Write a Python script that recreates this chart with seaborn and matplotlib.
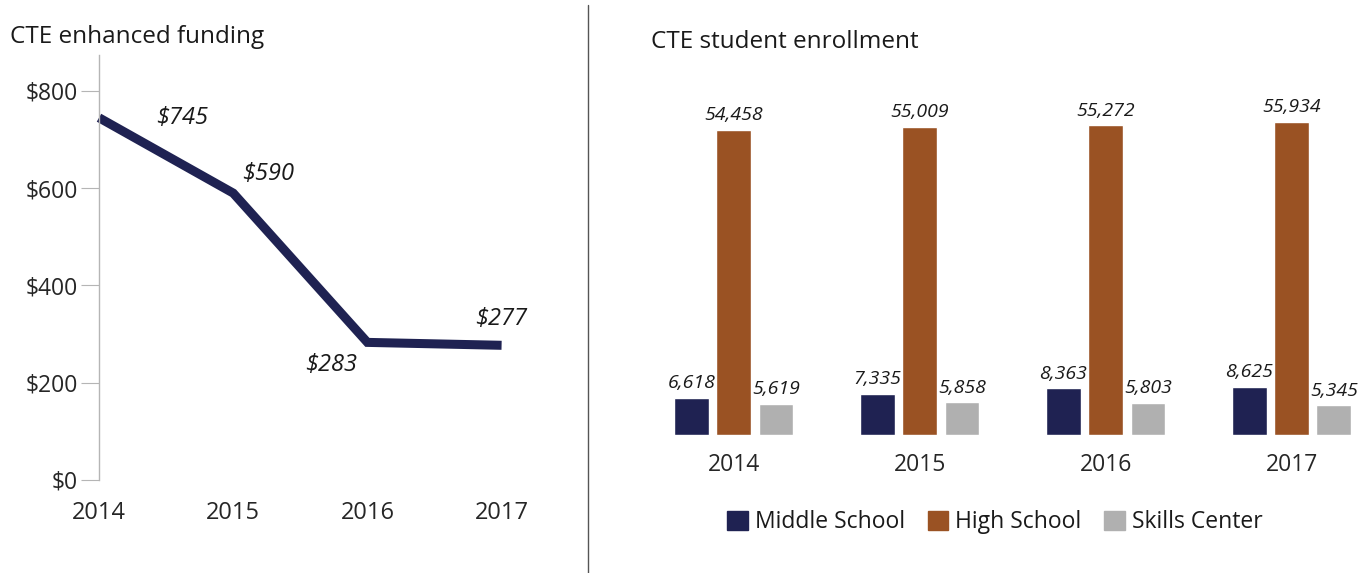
import numpy as np
import pandas as pd
import matplotlib
matplotlib.use('Agg')
import matplotlib.pyplot as plt
import seaborn as sns

# data
years = ['2014', '2015', '2016', '2017']
funding = [745, 590, 283, 277]
middle_school = [6618, 7335, 8363, 8625]
high_school = [54458, 55009, 55272, 55934]
skills_center = [5619, 5858, 5803, 5345]
groups = ['Middle School', 'High School', 'Skills Center']

navy = '#1f2252'
brown = '#9a5223'
grey = '#b0b0b0'

sns.set_style('white')
plt.rcParams['font.family'] = ['Open Sans', 'DejaVu Sans']
plt.rcParams['text.color'] = '#1a1a1a'

fig = plt.figure(figsize=(13.69, 5.73), dpi=100)

# ---- left: funding line
ax1 = fig.add_axes([99 / 1369, 93 / 573, 416 / 1369, 425 / 573])
xpos = np.arange(len(years))
sns.lineplot(x=xpos, y=funding, ax=ax1, color=navy, linewidth=6.5,
             sort=False, solid_capstyle='butt', solid_joinstyle='miter',
             clip_on=False)
ax1.set_xlim(0, 3.1)
ax1.set_ylim(0, 874)
ax1.set_yticks([0, 200, 400, 600, 800])
ax1.set_yticklabels([f'${v}' for v in [0, 200, 400, 600, 800]])
ax1.set_xticks(xpos)
ax1.set_xticklabels(years)
for s in ['top', 'right', 'bottom']:
    ax1.spines[s].set_visible(False)
ax1.spines['left'].set_color('#b5b5b5')
ax1.spines['left'].set_linewidth(1)
ax1.tick_params(axis='y', left=True, direction='out', length=13, width=0.8,
                color='#b5b5b5', pad=2, labelsize=16.5)
ax1.tick_params(axis='x', length=0, pad=15, labelsize=17)

# value labels (offsets in points)
offsets = [(60, 0), (25, 14), (-26, -16), (0, 19)]
for x, v, off in zip(xpos, funding, offsets):
    ax1.annotate(f'${v}', (x, v), xytext=off, textcoords='offset points',
                 ha='center', va='center', fontsize=17, style='italic')

fig.text(10 / 1369, 1 - 37 / 573, 'CTE enhanced funding', fontsize=17.5,
         va='center', ha='left')

# ---- divider
fig.add_artist(plt.Line2D([588 / 1369, 588 / 1369], [0, 1 - 5 / 573],
                          color='#555555', linewidth=1))

# ---- right: enrollment bars
df = pd.DataFrame({
    'year': years * 3,
    'group': [g for g in groups for _ in years],
    'students': middle_school + high_school + skills_center,
})
ax2 = fig.add_axes([650 / 1369, 138 / 573, 716 / 1369, 355 / 573])
sns.barplot(data=df, x='year', y='students', hue='group', ax=ax2,
            palette=[navy, brown, grey], width=0.68, gap=0.18,
            saturation=1, legend=False)
ax2.set_ylim(0, 63390)
ax2.set_xlim(-0.45, 3.4)
for c in ax2.containers:
    ax2.bar_label(c, labels=[f'{v:,.0f}' for v in c.datavalues], padding=4,
                  fontsize=14, style='italic')
sns.despine(ax=ax2, left=True, bottom=True)
ax2.set_yticks([])
ax2.set_xlabel('')
ax2.set_ylabel('')
ax2.tick_params(axis='x', length=0, pad=13, labelsize=16.5)

fig.text(651 / 1369, 1 - 42 / 573, 'CTE student enrollment', fontsize=17.5,
         va='center', ha='left')

handles = [plt.Rectangle((0, 0), 1, 1, color=c) for c in [navy, brown, grey]]
fig.legend(handles, groups, loc='center', bbox_to_anchor=(995 / 1369, 1 - 522 / 573),
           ncol=3, frameon=False, fontsize=16.5, handlelength=0.9, handleheight=0.9,
           handletextpad=0.3, columnspacing=1.0)

fig.savefig('out.png', dpi=100)
